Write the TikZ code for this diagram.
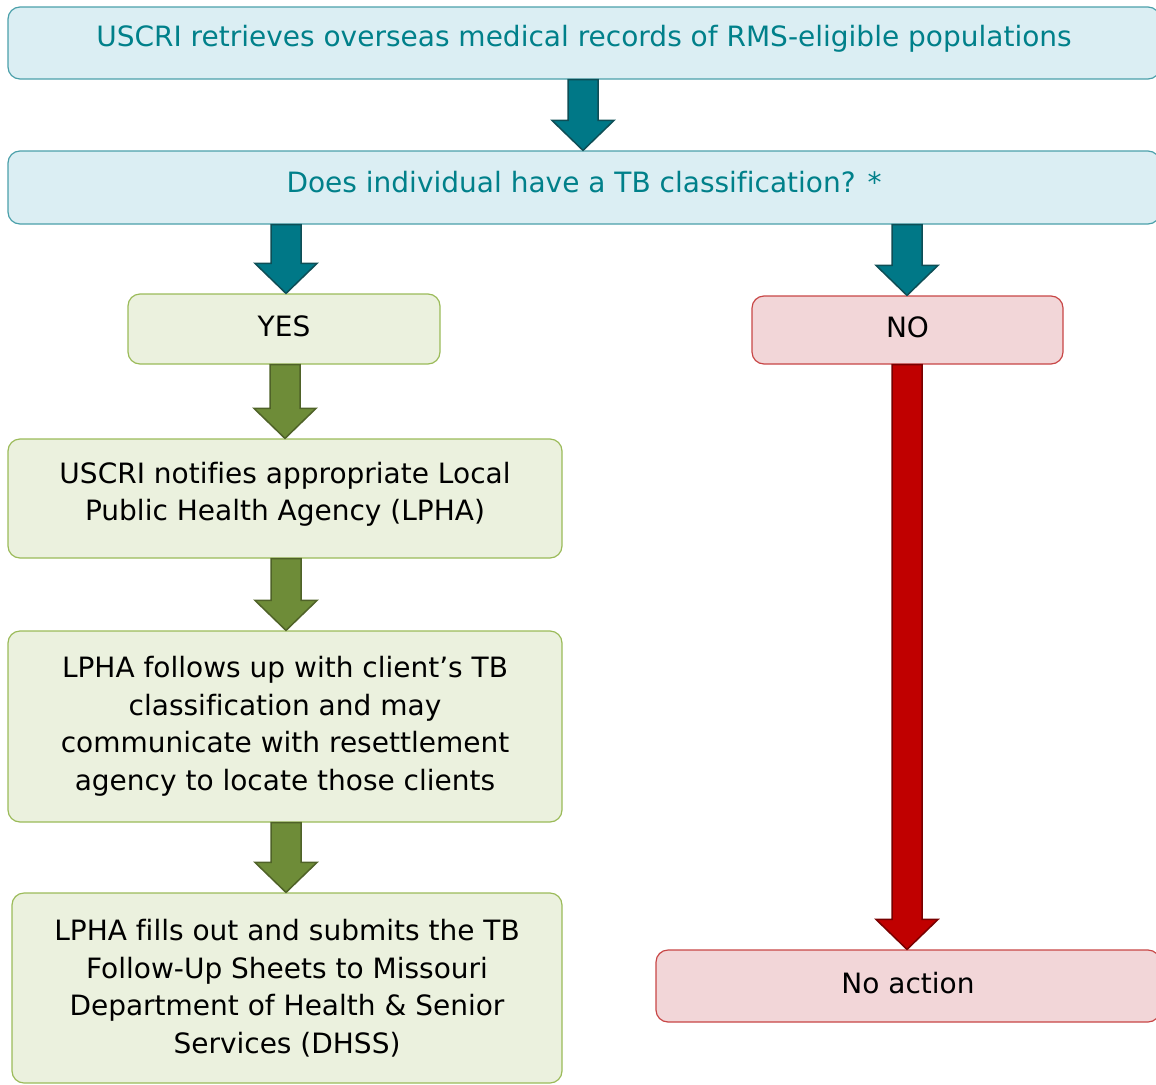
\documentclass[tikz,border=0pt]{standalone}
\usepackage{fontspec}
\setmainfont{DejaVu Sans}[Ligatures=NoCommon]
\usetikzlibrary{calc}
\definecolor{bluefill}{RGB}{219,238,243}
\definecolor{blueline}{RGB}{75,160,170}
\definecolor{bluetext}{RGB}{0,128,138}
\definecolor{tealarr}{RGB}{0,120,135}
\definecolor{tealedge}{RGB}{14,78,86}
\definecolor{greenfill}{RGB}{235,241,222}
\definecolor{greenline}{RGB}{155,187,89}
\definecolor{greenarr}{RGB}{110,140,56}
\definecolor{greenedge}{RGB}{79,98,40}
\definecolor{redfill}{RGB}{242,214,216}
\definecolor{redline}{RGB}{200,70,70}
\definecolor{redarr}{RGB}{192,0,0}
\definecolor{rededge}{RGB}{120,0,0}
\newcommand\blockarrow[4]{%
  \path let \p1=(#3.south), \p2=(#4.north) in
  [#1] (#2-15,\y1) -- (#2+15,\y1) -- (#2+15,\y2+30) -- (#2+31,\y2+30)
  -- (#2,\y2) -- (#2-31,\y2+30) -- (#2-15,\y2+30) -- cycle;}
\tikzset{
  box/.style={rectangle, rounded corners=12pt, line width=1.2pt, align=center,
    font=\fontsize{28}{37.5}\selectfont, inner sep=0pt},
  bluebox/.style={box, draw=blueline, fill=bluefill, text=bluetext},
  greenbox/.style={box, draw=greenline, fill=greenfill, text=black},
  redbox/.style={box, draw=redline, fill=redfill, text=black},
  tealarrow/.style={draw=tealedge, fill=tealarr, line width=1.5pt, line join=miter},
  greenarrow/.style={draw=greenedge, fill=greenarr, line width=1.5pt, line join=miter},
  redarrow/.style={draw=rededge, fill=redarr, line width=1.5pt, line join=miter},
}
\begin{document}
\begin{tikzpicture}[x=1pt, y=-1pt]
\useasboundingbox (0,0) rectangle (1156,1084);
\node[bluebox, minimum width=1152pt, minimum height=72pt] (b1) at (584,43) {};
\node[text=bluetext, font=\fontsize{28}{37.5}\selectfont] (b1t) at (584,39)
  {USCRI retrieves overseas medical records of RMS-eligible populations};
\node[bluebox, minimum width=1152pt, minimum height=73pt] (b2) at (584,187.5) {};
\node[text=bluetext, font=\fontsize{28}{37.5}\selectfont] (b2t) at (584,182.5)
  {Does individual have a TB classification? *};
\node[greenbox, minimum width=312pt, minimum height=70pt, text depth=6pt] (yes) at (284,329) {YES};
\node[redbox, minimum width=311pt, minimum height=68pt, text depth=6pt] (no) at (907.5,330) {NO};
\node[greenbox, minimum width=554pt, minimum height=119pt, text depth=14pt] (n1) at (285,498.5)
  {USCRI notifies appropriate Local\\Public Health Agency (LPHA)};
\node[greenbox, minimum width=554pt, minimum height=191pt] (n2) at (285,726.5)
  {LPHA follows up with client’s TB\\classification and may\\communicate with resettlement\\agency to locate those clients};
\node[greenbox, minimum width=550pt, minimum height=190pt] (n3) at (287,988)
  {LPHA fills out and submits the TB\\Follow-Up Sheets to Missouri\\Department of Health \& Senior\\Services (DHSS)};
\node[redbox, minimum width=504pt, minimum height=72pt, text depth=6pt] (na) at (908,986) {No action};
\blockarrow{tealarrow}{583}{b1}{b2}
\blockarrow{tealarrow}{286}{b2}{yes}
\blockarrow{tealarrow}{907}{b2}{no}
\blockarrow{greenarrow}{285}{yes}{n1}
\blockarrow{greenarrow}{286}{n1}{n2}
\blockarrow{greenarrow}{286}{n2}{n3}
\blockarrow{redarrow}{907}{no}{na}
\end{tikzpicture}
\end{document}
